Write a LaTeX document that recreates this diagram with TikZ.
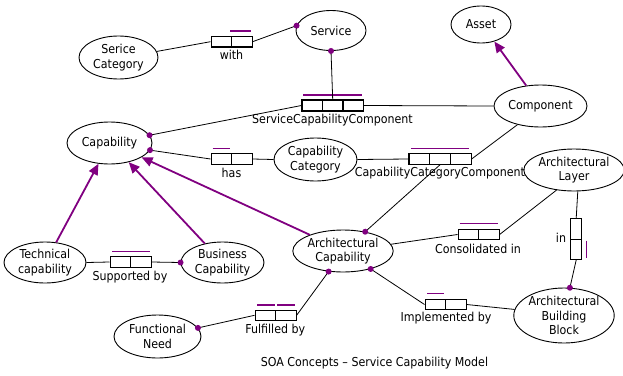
\documentclass[tikz,border=0pt]{standalone}
\usepackage{fontspec}
\setmainfont{DejaVu Sans Condensed}
\usetikzlibrary{shapes.geometric,arrows.meta}
\definecolor{ormpurple}{RGB}{128,0,128}
\begin{document}
\begin{tikzpicture}[x=1pt,y=-1pt,
  font=\fontsize{12.3}{14.6}\selectfont,
  ent/.style={ellipse, draw, line width=0.9pt, inner sep=0pt, align=center},
  cell/.style={rectangle, draw, line width=1.1pt, minimum width=20.5pt, minimum height=10.5pt, inner sep=0pt},
  vcell/.style={rectangle, draw, line width=1.1pt, minimum width=11pt, minimum height=20.3pt, inner sep=0pt},
  link/.style={line width=0.8pt},
  sub/.style={ormpurple, line width=1.8pt, -{Triangle[length=11pt,width=9.5pt]}},
  uniq/.style={ormpurple, line width=1.2pt},
  lbl/.style={inner sep=0pt}]
\useasboundingbox (0,0) rectangle (623,375);

% entity types
\node[ent, minimum width=79pt, minimum height=43pt] (sc) at (118.5,57.5) {Serice\\Category};
\node[ent, minimum width=70pt, minimum height=40pt] (svc) at (331,30.5) {Service};
\node[ent, minimum width=60pt, minimum height=37pt] (asset) at (481,24.5) {Asset};
\node[ent, minimum width=93pt, minimum height=42pt] (comp) at (540.5,106) {Component};
\node[ent, minimum width=85pt, minimum height=42pt] (cap) at (109.5,143) {Capability};
\node[ent, minimum width=83pt, minimum height=43pt] (cc) at (315.5,159.5) {Capability\\Category};
\node[ent, minimum width=88pt, minimum height=42pt] (al) at (574,170) {Architectural\\Layer};
\node[ent, minimum width=82pt, minimum height=41pt] (tc) at (45,262.5) {Technical\\capability};
\node[ent, minimum width=83pt, minimum height=41pt] (bc) at (222.5,262.5) {Business\\Capability};
\node[ent, minimum width=100pt, minimum height=42pt] (ac) at (343,251) {Architectural\\Capability};
\node[ent, minimum width=87pt, minimum height=43pt] (fn) at (157.5,336.5) {Functional\\Need};
\node[ent, minimum width=100pt, minimum height=55pt] (abb) at (564,315.5) {Architectural\\Building\\Block};

% fact types (role boxes)
\node[cell] (with1) at (221.3,41.7) {};
\node[cell] (with2) at (241.8,41.7) {};
\node[cell, minimum height=11pt] (scc1) at (312.2,105.5) {};
\node[cell, minimum height=11pt] (scc2) at (332.7,105.5) {};
\node[cell, minimum height=11pt] (scc3) at (353.2,105.5) {};
\node[cell] (has1) at (221.3,159) {};
\node[cell] (has2) at (241.8,159) {};
\node[cell, minimum width=20.7pt] (ccc1) at (419.3,159) {};
\node[cell, minimum width=20.7pt] (ccc2) at (440,159) {};
\node[cell, minimum width=20.7pt] (ccc3) at (460.7,159) {};
\node[cell] (ci1) at (468.3,234.5) {};
\node[cell] (ci2) at (488.8,234.5) {};
\node[vcell] (in1) at (576.2,229) {};
\node[vcell] (in2) at (576.2,249.3) {};
\node[cell] (sb1) at (120.3,262) {};
\node[cell] (sb2) at (140.8,262) {};
\node[cell] (fb1) at (265.3,315.3) {};
\node[cell] (fb2) at (285.8,315.3) {};
\node[cell] (ib1) at (435.3,304.5) {};
\node[cell] (ib2) at (455.8,304.5) {};

% uniqueness constraints
\draw[uniq] ([xshift=-1pt,yshift=5pt]with2.north west) -- ([xshift=-2pt,yshift=5pt]with2.north east);
\draw[uniq] ([xshift=2pt,yshift=4.5pt]scc1.north west) -- ([xshift=-2pt,yshift=4.5pt]scc3.north east);
\draw[uniq] ([xshift=2pt,yshift=5pt]has1.north west) -- ([xshift=-2pt,yshift=5pt]has1.north east);
\draw[uniq] ([xshift=2.5pt,yshift=5pt]ccc1.north west) -- ([xshift=-2.5pt,yshift=5pt]ccc3.north east);
\draw[uniq] ([xshift=2pt,yshift=5pt]ci1.north west) -- ([xshift=-2pt,yshift=5pt]ci2.north east);
\draw[uniq] ([xshift=4.5pt,yshift=-2pt]in2.north east) -- ([xshift=4.5pt,yshift=2.5pt]in2.south east);
\draw[uniq] ([xshift=2.5pt,yshift=5pt]sb1.north west) -- ([xshift=-2pt,yshift=5pt]sb2.north east);
\draw[uniq] ([xshift=2.5pt,yshift=4.5pt]fb1.north west) -- ([xshift=-1.5pt,yshift=4.5pt]fb1.north east);
\draw[uniq] ([xshift=2pt,yshift=4.5pt]fb2.north west) -- ([xshift=-2pt,yshift=4.5pt]fb2.north east);
\draw[uniq] ([xshift=2.5pt,yshift=5pt]ib1.north west) -- ([xshift=-2pt,yshift=5pt]ib1.north east);

% fact type readings
\node[lbl] (lwith) at (231.5,55) {with};
\node[lbl] (lscc) at (332.5,120) {ServiceCapabilityComponent};
\node[lbl] (lhas) at (231.5,172.5) {has};
\node[lbl] (lccc) at (440,173.3) {CapabilityCategoryComponent};
\node[lbl] (lci) at (478,249.3) {Consolidated in};
\node[lbl] (lin) at (561,237.7) {in};
\node[lbl] (lsb) at (130,276.7) {Supported by};
\node[lbl] (lfb) at (275.3,330) {Fulfilled by};
\node[lbl] (lib) at (446,318.3) {Implemented by};
\node[lbl] (title) at (374.5,363.5) {SOA Concepts -- Service Capability Model};

% role connectors
\draw[link] (sc.9) -- (with1.west);
\draw[link] (with2.east) -- (svc.172);
\draw[link] (svc.south) -- (scc2.north);
\draw[link] (scc1.west) -- (cap.11);
\draw[link] (scc3.east) -- (comp.west);
\draw[link] (has1.west) -- (cap.-10);
\draw[link] (has2.east) -- (cc.west);
\draw[link] (cc.east) -- (ccc1.west);
\draw[link] (ccc3.east) -- (comp.219);
\draw[link] (ccc2.south) -- (ac.41);
\draw[link] (ac.8) -- (ci1.west);
\draw[link] (ci2.east) -- (al.229);
\draw[link] (al.-80) -- (in1.north);
\draw[link] (in2.south) -- (abb.78);
\draw[link] (ac.-33) -- (ib1.west);
\draw[link] (ib2.east) -- (abb.173);
\draw[link] (ac.235) -- (fb2.east);
\draw[link] (fb1.west) -- (fn.12);
\draw[link] (tc.east) -- (sb1.west);
\draw[link] (sb2.east) -- (bc.west);

% mandatory role dots
\foreach \p in {svc.172, svc.south, cap.11, cap.-10, ac.41, ac.-33, ac.235, abb.78, fn.12, bc.west}
  \fill[ormpurple] (\p) circle (3pt);

% subtype connections
\draw[sub] (comp.125) -- (asset.-52);
\draw[sub] (ac.154) -- (cap.-24);
\draw[sub] (bc.133) -- (cap.-45);
\draw[sub] (tc.61) -- (cap.-118);
\end{tikzpicture}
\end{document}
